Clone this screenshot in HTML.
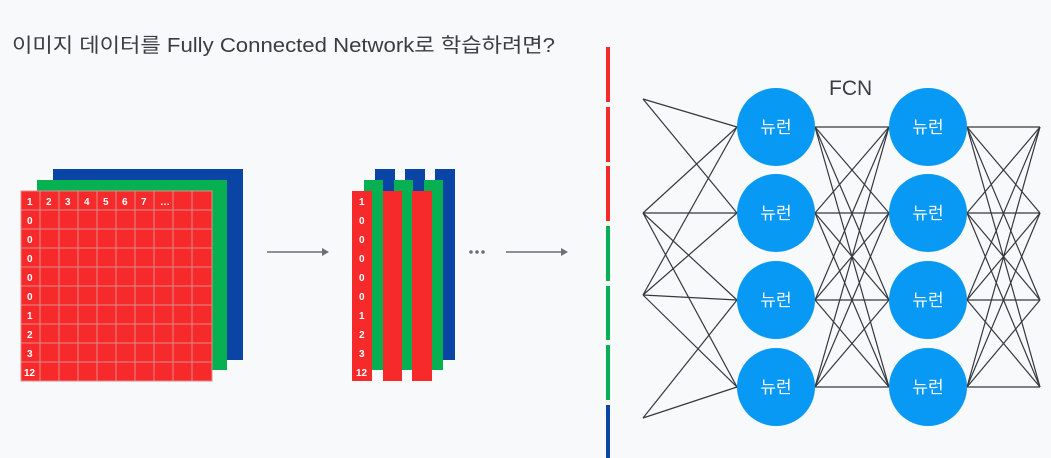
<!DOCTYPE html>
<html><head><meta charset="utf-8"><style>
html,body{margin:0;padding:0;background:#f8f9fb;}
svg{display:block;}
text{font-family:"Liberation Sans","Noto Sans CJK KR",sans-serif;}
</style></head><body>
<svg width="1051" height="458" viewBox="0 0 1051 458" xmlns="http://www.w3.org/2000/svg">
<rect width="1051" height="458" fill="#f8f9fb"/>
<text x="12" y="52" font-size="20" fill="#3a3d44" textLength="543" lengthAdjust="spacingAndGlyphs">이미지 데이터를 Fully Connected Network로 학습하려면?</text>

<rect x="53" y="169" width="190" height="191" fill="#0a45a6"/>
<rect x="37" y="180" width="190" height="190" fill="#07b152"/>
<rect x="21" y="191" width="191" height="190" fill="#f62a2a"/>
<g stroke="#e08a8a" stroke-width="1">
<line x1="40" y1="191" x2="40" y2="381"/><line x1="59" y1="191" x2="59" y2="381"/><line x1="78" y1="191" x2="78" y2="381"/><line x1="97" y1="191" x2="97" y2="381"/><line x1="116" y1="191" x2="116" y2="381"/><line x1="135" y1="191" x2="135" y2="381"/><line x1="154" y1="191" x2="154" y2="381"/><line x1="173" y1="191" x2="173" y2="381"/><line x1="192" y1="191" x2="192" y2="381"/>
<line x1="21" y1="210" x2="212" y2="210"/><line x1="21" y1="229" x2="212" y2="229"/><line x1="21" y1="248" x2="212" y2="248"/><line x1="21" y1="267" x2="212" y2="267"/><line x1="21" y1="286" x2="212" y2="286"/><line x1="21" y1="305" x2="212" y2="305"/><line x1="21" y1="324" x2="212" y2="324"/><line x1="21" y1="343" x2="212" y2="343"/><line x1="21" y1="362" x2="212" y2="362"/>
<rect x="21" y="191" width="191" height="190" fill="none"/>
</g>
<g fill="#fff" font-size="10" font-weight="bold">
<text x="27" y="205">1</text><text x="46" y="205">2</text><text x="65" y="205">3</text><text x="84" y="205">4</text><text x="103" y="205">5</text><text x="122" y="205">6</text><text x="141" y="205">7</text><text x="160" y="205">…</text>
<text x="27" y="224">0</text><text x="27" y="243">0</text><text x="27" y="262">0</text><text x="27" y="281">0</text><text x="27" y="300">0</text><text x="27" y="319">1</text><text x="27" y="338">2</text><text x="27" y="357">3</text><text x="24" y="376">12</text>
</g>

<line x1="267" y1="252" x2="324" y2="252" stroke="#6b6f78" stroke-width="1.5"/>
<polygon points="322,248 329,252 322,256" fill="#6b6f78"/>

<rect x="375" y="169" width="20" height="191" fill="#0a45a6"/>
<rect x="405" y="169" width="20" height="191" fill="#0a45a6"/>
<rect x="435" y="169" width="20" height="191" fill="#0a45a6"/>
<rect x="364" y="180" width="19" height="190" fill="#07b152"/>
<rect x="394" y="180" width="19" height="190" fill="#07b152"/>
<rect x="424" y="180" width="19" height="190" fill="#07b152"/>
<rect x="352" y="191" width="20" height="190" fill="#f62a2a"/>
<rect x="383" y="191" width="19" height="190" fill="#f62a2a"/>
<rect x="412" y="191" width="20" height="190" fill="#f62a2a"/>
<g fill="#fff" font-size="10" font-weight="bold">
<text x="359" y="205">1</text><text x="359" y="224">0</text><text x="359" y="243">0</text><text x="359" y="262">0</text><text x="359" y="281">0</text><text x="359" y="300">0</text><text x="359" y="319">1</text><text x="359" y="338">2</text><text x="359" y="357">3</text><text x="356" y="376">12</text>
</g>
<g fill="#6b6f78"><circle cx="471" cy="252" r="1.8"/><circle cx="477" cy="252" r="1.8"/><circle cx="483" cy="252" r="1.8"/></g>
<line x1="506" y1="252" x2="563" y2="252" stroke="#6b6f78" stroke-width="1.5"/>
<polygon points="561,248 568,252 561,256" fill="#6b6f78"/>

<g>
<rect x="606" y="47" width="4" height="55" fill="#f62a2a"/>
<rect x="606" y="107" width="4" height="55" fill="#f62a2a"/>
<rect x="606" y="166" width="4" height="55" fill="#f62a2a"/>
<rect x="606" y="226" width="4" height="55" fill="#07b152"/>
<rect x="606" y="286" width="4" height="54" fill="#07b152"/>
<rect x="606" y="345" width="4" height="55" fill="#07b152"/>
<rect x="606" y="405" width="4" height="53" fill="#0a45a6"/>
</g>

<text x="829" y="95" font-size="21" fill="#3a3d44">FCN</text>

<g stroke="#35383e" stroke-width="1.2">
<line x1="643" y1="99" x2="737" y2="127"/><line x1="643" y1="99" x2="737" y2="213"/>
<line x1="643" y1="213" x2="737" y2="127"/><line x1="643" y1="213" x2="737" y2="213"/><line x1="643" y1="213" x2="737" y2="300"/><line x1="643" y1="213" x2="737" y2="387"/>
<line x1="643" y1="295" x2="737" y2="127"/><line x1="643" y1="295" x2="737" y2="213"/><line x1="643" y1="295" x2="737" y2="300"/><line x1="643" y1="295" x2="737" y2="387"/>
<line x1="643" y1="418" x2="737" y2="300"/><line x1="643" y1="418" x2="737" y2="387"/>
<line x1="815" y1="127" x2="889" y2="127"/><line x1="815" y1="127" x2="889" y2="213"/><line x1="815" y1="127" x2="889" y2="300"/><line x1="815" y1="127" x2="889" y2="387"/>
<line x1="815" y1="213" x2="889" y2="127"/><line x1="815" y1="213" x2="889" y2="213"/><line x1="815" y1="213" x2="889" y2="300"/><line x1="815" y1="213" x2="889" y2="387"/>
<line x1="815" y1="300" x2="889" y2="127"/><line x1="815" y1="300" x2="889" y2="213"/><line x1="815" y1="300" x2="889" y2="300"/><line x1="815" y1="300" x2="889" y2="387"/>
<line x1="815" y1="387" x2="889" y2="127"/><line x1="815" y1="387" x2="889" y2="213"/><line x1="815" y1="387" x2="889" y2="300"/><line x1="815" y1="387" x2="889" y2="387"/>
<line x1="967" y1="127" x2="1040" y2="127"/><line x1="967" y1="127" x2="1040" y2="213"/><line x1="967" y1="127" x2="1040" y2="300"/><line x1="967" y1="127" x2="1040" y2="387"/>
<line x1="967" y1="213" x2="1040" y2="127"/><line x1="967" y1="213" x2="1040" y2="213"/><line x1="967" y1="213" x2="1040" y2="300"/><line x1="967" y1="213" x2="1040" y2="387"/>
<line x1="967" y1="300" x2="1040" y2="127"/><line x1="967" y1="300" x2="1040" y2="213"/><line x1="967" y1="300" x2="1040" y2="300"/><line x1="967" y1="300" x2="1040" y2="387"/>
<line x1="967" y1="387" x2="1040" y2="127"/><line x1="967" y1="387" x2="1040" y2="213"/><line x1="967" y1="387" x2="1040" y2="300"/><line x1="967" y1="387" x2="1040" y2="387"/>
</g>

<g fill="#0899f5">
<circle cx="776" cy="127" r="39"/><circle cx="776" cy="213" r="39"/><circle cx="776" cy="300" r="39"/><circle cx="776" cy="387" r="39"/>
<circle cx="928" cy="127" r="39"/><circle cx="928" cy="213" r="39"/><circle cx="928" cy="300" r="39"/><circle cx="928" cy="387" r="39"/>
</g>
<g fill="#fff" font-size="17" text-anchor="middle">
<text x="776" y="133">뉴런</text><text x="776" y="219">뉴런</text><text x="776" y="306">뉴런</text><text x="776" y="393">뉴런</text>
<text x="928" y="133">뉴런</text><text x="928" y="219">뉴런</text><text x="928" y="306">뉴런</text><text x="928" y="393">뉴런</text>
</g>
</svg>
</body></html>
